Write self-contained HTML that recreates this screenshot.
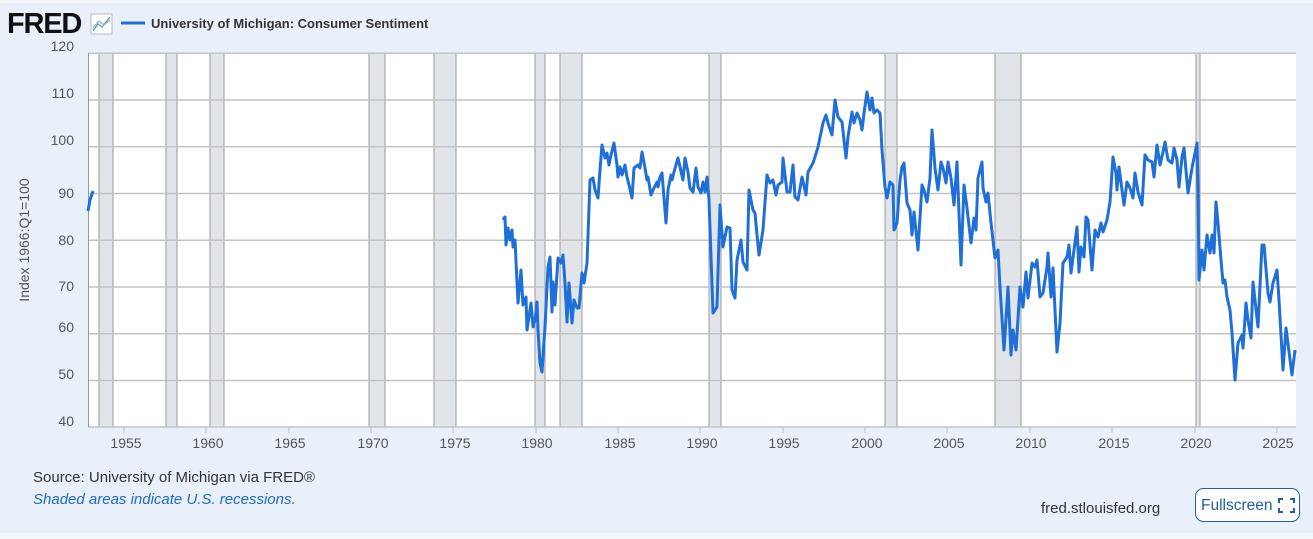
<!DOCTYPE html>
<html><head><meta charset="utf-8"><style>
body{margin:0;width:1313px;height:539px;background:#f4f7fb;font-family:"Liberation Sans",sans-serif;overflow:hidden}
#wrap{position:absolute;left:0;top:3px;width:1313px;height:530px;background:#e9f0f9}
</style></head><body>
<div id="wrap"></div>
<svg width="1313" height="539" style="position:absolute;left:0;top:0" font-family="Liberation Sans, sans-serif">
<text x="7" y="33" font-size="29" font-weight="bold" fill="#111" letter-spacing="-1.2">FRED</text>
<rect x="91" y="14" width="21" height="20" fill="#fff" stroke="#aab" stroke-width="0.8"/>
<polyline points="93,31 98,24 102,27 110,17" fill="none" stroke="#5a9ad8" stroke-width="1.3"/>
<polyline points="93,28 99,21 104,25 110,20" fill="none" stroke="#7bc4a0" stroke-width="1.2"/>
<line x1="121" y1="23" x2="145" y2="23" stroke="#1f6fd8" stroke-width="3"/>
<text x="151" y="28" font-size="13" font-weight="bold" fill="#333">University of Michigan: Consumer Sentiment</text>
<rect x="88" y="53" width="1208" height="374" fill="#fff"/>
<g fill="#e1e5ea" stroke="#9a9a9a" stroke-width="1">
<rect x="99" y="53" width="14" height="374"/><rect x="166" y="53" width="11" height="374"/><rect x="210" y="53" width="14" height="374"/>
<rect x="369" y="53" width="16" height="374"/><rect x="434" y="53" width="22" height="374"/><rect x="535" y="53" width="10" height="374"/>
<rect x="560" y="53" width="22" height="374"/><rect x="709" y="53" width="12" height="374"/><rect x="885" y="53" width="12" height="374"/>
<rect x="995" y="53" width="26" height="374"/><rect x="1196" y="53" width="4" height="374"/>
</g>
<g stroke="#c4c4c4" stroke-width="1.5">
<line x1="88" y1="53.3" x2="1296" y2="53.3"/><line x1="88" y1="100" x2="1296" y2="100"/><line x1="88" y1="146.8" x2="1296" y2="146.8"/>
<line x1="88" y1="193.5" x2="1296" y2="193.5"/><line x1="88" y1="240.3" x2="1296" y2="240.3"/><line x1="88" y1="287" x2="1296" y2="287"/>
<line x1="88" y1="333.8" x2="1296" y2="333.8"/><line x1="88" y1="380.5" x2="1296" y2="380.5"/><line x1="88" y1="427" x2="1296" y2="427"/>
</g>
<line x1="88.5" y1="53" x2="88.5" y2="427" stroke="#999"/>
<g font-size="14" fill="#555" text-anchor="end">
<text x="74" y="51">120</text><text x="74" y="98">110</text><text x="74" y="145">100</text><text x="74" y="198">90</text>
<text x="74" y="245">80</text><text x="74" y="291">70</text><text x="74" y="332">60</text><text x="74" y="379">50</text><text x="74" y="426">40</text>
</g>
<text transform="translate(29,240) rotate(-90)" font-size="14" fill="#555" text-anchor="middle">Index 1966:Q1=100</text>
<g stroke="#bbb"><line x1="124" y1="427" x2="124" y2="433"/><line x1="206" y1="427" x2="206" y2="433"/><line x1="289" y1="427" x2="289" y2="433"/><line x1="371" y1="427" x2="371" y2="433"/><line x1="453" y1="427" x2="453" y2="433"/><line x1="536" y1="427" x2="536" y2="433"/><line x1="618" y1="427" x2="618" y2="433"/><line x1="700" y1="427" x2="700" y2="433"/><line x1="783" y1="427" x2="783" y2="433"/><line x1="865" y1="427" x2="865" y2="433"/><line x1="947" y1="427" x2="947" y2="433"/><line x1="1030" y1="427" x2="1030" y2="433"/><line x1="1112" y1="427" x2="1112" y2="433"/><line x1="1195" y1="427" x2="1195" y2="433"/><line x1="1277" y1="427" x2="1277" y2="433"/></g>
<g font-size="14" fill="#555" text-anchor="middle">
<text x="126" y="448">1955</text><text x="208" y="448">1960</text><text x="290" y="448">1965</text><text x="373" y="448">1970</text><text x="455" y="448">1975</text><text x="537" y="448">1980</text><text x="620" y="448">1985</text><text x="702" y="448">1990</text><text x="784" y="448">1995</text><text x="867" y="448">2000</text><text x="949" y="448">2005</text><text x="1031" y="448">2010</text><text x="1114" y="448">2015</text><text x="1196" y="448">2020</text><text x="1278" y="448">2025</text>
</g>
<g fill="none" stroke="#1f6fd8" stroke-width="3" stroke-linejoin="round">
<polyline points="88,211 90,200 93,191"/>
<polyline points="503,220 505,217 506,245 508,228 510,240 512,230 513,247 515,240 518,303 521,270 523,305 526,297 527,330 531,303 533,327 535,320 537,302 538,330 540,363 542,372 545,327 548,267 550,257 552,312 553,282 555,305 558,258 561,263 563,255 565,283 567,322 569,283 572,323 574,300 577,308 579,308 582,273 584,283 587,263 590,180 593,178 595,190 598,198 600,170 602,145 605,158 607,153 609,165 611,155 614,143 617,165 618,177 620,167 622,175 625,165 627,177 629,185 632,198 634,168 638,165 640,168 642,152 645,168 647,180 648,177 651,195 653,190 657,182 658,187 660,177 662,173 666,223 668,190 671,175 672,180 674,172 678,158 680,167 683,180 685,158 688,172 690,188 693,192 696,168 698,187 701,193 703,182 705,192 707,177 709,200 713,313 717,307 720,205 723,247 727,227 730,228 732,290 735,298 737,260 741,240 743,262 747,270 749,190 753,210 755,213 757,235 759,255 763,230 767,175 770,183 773,180 776,195 778,185 782,182 783,158 787,192 790,192 793,165 795,197 798,200 802,177 806,195 808,172 813,163 815,157 818,147 823,123 826,115 828,123 832,135 835,100 838,117 842,122 846,158 848,137 852,112 854,123 857,113 860,120 862,130 864,113 867,92 870,110 872,98 874,113 877,110 880,113 882,150 885,187 887,198 890,182 893,185 894,230 897,223 900,180 902,167 904,163 907,203 910,210 912,235 914,212 918,250 922,185 924,190 927,202 930,178 932,130 935,168 938,190 941,162 943,168 946,183 948,162 951,178 954,205 957,162 961,265 964,185 967,208 971,243 974,218 976,230 978,178 982,162 983,188 986,202 988,193 991,223 995,258 998,250 1000,287 1004,350 1008,287 1011,355 1013,330 1016,350 1020,287 1023,307 1026,272 1028,298 1032,263 1035,267 1037,260 1040,297 1043,293 1047,267 1048,253 1051,297 1053,268 1057,352 1060,323 1063,263 1067,257 1069,245 1071,273 1077,227 1079,272 1081,247 1084,257 1086,217 1088,220 1092,270 1095,230 1098,237 1101,223 1103,232 1107,220 1110,202 1113,157 1116,173 1117,190 1119,167 1124,205 1127,182 1130,188 1133,198 1135,173 1138,192 1142,205 1145,155 1148,160 1152,162 1154,177 1157,145 1160,165 1163,152 1165,142 1168,160 1172,163 1174,148 1177,160 1179,187 1182,157 1184,148 1188,193 1192,168 1197,143 1198,187 1199,280 1202,250 1204,270 1207,235 1210,253 1212,235 1214,253 1216,202 1218,223 1221,260 1223,283 1225,280 1227,297 1230,310 1232,333 1235,380 1238,343 1242,335 1243,348 1246,303 1248,320 1251,338 1253,282 1258,327 1262,245 1264,245 1268,293 1270,302 1273,283 1277,270 1279,300 1283,370 1286,328 1292,375 1295,350"/>
</g>
<text x="33" y="482" font-size="15" fill="#333">Source: University of Michigan via FRED®</text>
<text x="33" y="504" font-size="15" fill="#1e6bc4" font-style="italic">Shaded areas indicate U.S. recessions.</text>
<text x="1041" y="513" font-size="15" fill="#333">fred.stlouisfed.org</text>
<rect x="1195.5" y="488.5" width="104" height="33" rx="8" fill="#fff" stroke="#1e5fa8"/>
<text x="1201" y="510" font-size="15.5" fill="#1e5fa8">Fullscreen</text>
<g stroke="#1e5fa8" stroke-width="2" fill="none"><polyline points="1279,503 1279,499 1283,499"/><polyline points="1290,499 1294,499 1294,503"/><polyline points="1279,508 1279,512 1283,512"/><polyline points="1290,512 1294,512 1294,508"/></g>
</svg>
</body></html>
